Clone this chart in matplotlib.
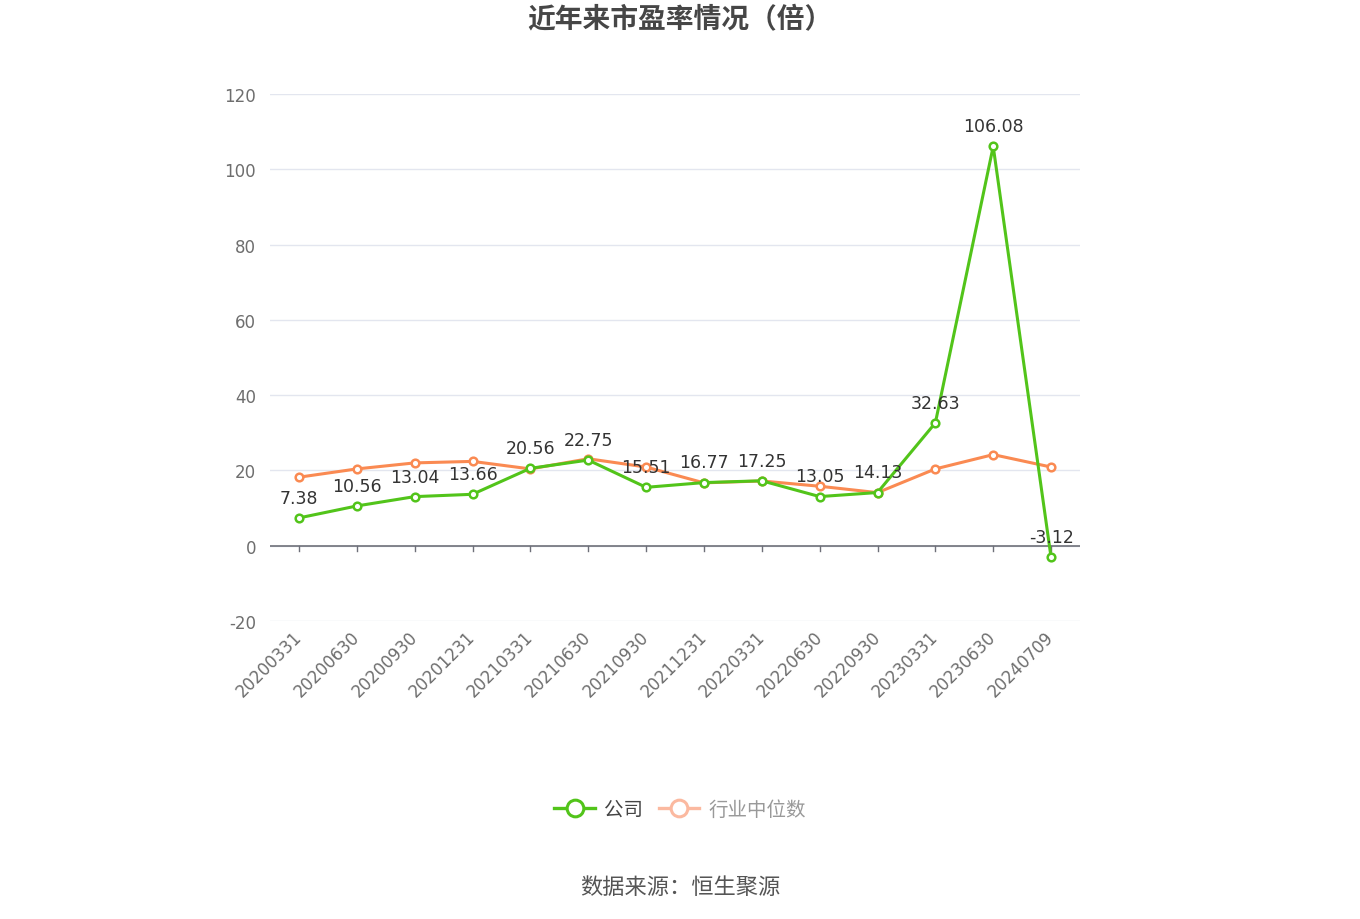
import matplotlib.pyplot as plt

plt.rcParams['font.family'] = ['Noto Sans CJK SC', 'DejaVu Sans']

dates = ["20200331", "20200630", "20200930", "20201231", "20210331", "20210630",
         "20210930", "20211231", "20220331", "20220630", "20220930", "20230331",
         "20230630", "20240709"]
company = [7.38, 10.56, 13.04, 13.66, 20.56, 22.75, 15.51, 16.77, 17.25, 13.05,
           14.13, 32.63, 106.08, -3.12]
industry = [18.2, 20.4, 22.0, 22.4, 20.4, 23.1, 20.9, 16.7, 17.2, 15.8, 14.1,
            20.4, 24.2, 20.9]
yticks = [-20, 0, 20, 40, 60, 80, 100, 120]

green = "#52c41a"
orange = "#fa8a52"
num_font = "DejaVu Sans"

fig = plt.figure(figsize=(13.6, 9.2), dpi=100)
ax = fig.add_axes([270 / 1360, 1 - 622 / 920, 810 / 1360, 527 / 920])

x = list(range(len(dates)))
ax.plot(x, industry, color=orange, lw=2.2, marker="o", ms=5.5, mfc="white",
        mec=orange, mew=1.8, zorder=3)
ax.plot(x, company, color=green, lw=2.2, marker="o", ms=5.5, mfc="white",
        mec=green, mew=1.8, zorder=4)

for xi, v in zip(x, company):
    ax.annotate(f"{v:.2f}", (xi, v), xytext=(0, 8), textcoords="offset points",
                ha="center", va="bottom", fontsize=12.5, color="#333333",
                family=num_font, zorder=5)

ax.set_xlim(-0.5, len(dates) - 0.5)
ax.set_ylim(-20, 120)
ax.set_yticks(yticks)
ax.set_yticklabels([str(t) for t in yticks], color="#6e6e6e", fontsize=12,
                   family=num_font)
ax.grid(axis="y", color="#e3e6ef", lw=1)
ax.set_axisbelow(True)
for s in ax.spines.values():
    s.set_visible(False)
ax.tick_params(axis="y", length=0, pad=10)
ax.axhline(0, color="#6e7079", lw=1.2, zorder=2)
ax.set_xticks(x)
ax.set_xticklabels(dates, rotation=45, ha="right", va="center",
                   rotation_mode="anchor", color="#6e6e6e", fontsize=12,
                   family=num_font)
ax.tick_params(axis="x", length=0, pad=9)
for xi in x:
    ax.plot([xi, xi], [0, -1.5], color="#6e7079", lw=1, zorder=2, clip_on=False)

fig.text(0.5, 1 - 20 / 920, "近年来市盈率情况（倍）", ha="center", va="center",
         fontsize=20, fontweight="bold", color="#464646")

h_co, = ax.plot([], [], color=green, lw=2.4, marker="o", ms=12, mfc="white",
                mec=green, mew=2.2)
h_in, = ax.plot([], [], color="#fbb9a0", lw=2.4, marker="o", ms=12, mfc="white",
                mec="#fbb9a0", mew=2.2)
leg = fig.legend([h_co, h_in], ["公司", "行业中位数"], loc="center",
                 bbox_to_anchor=(680 / 1360, 1 - 810 / 920), ncol=2, frameon=False,
                 fontsize=14, handlelength=2.1, columnspacing=0.8, handletextpad=0.45)
leg.get_texts()[0].set_color("#444444")
leg.get_texts()[1].set_color("#999999")

fig.text(0.5, 1 - 888 / 920, "数据来源：恒生聚源", ha="center", va="center",
         fontsize=16, color="#555555")

fig.savefig("out.png", dpi=100)
